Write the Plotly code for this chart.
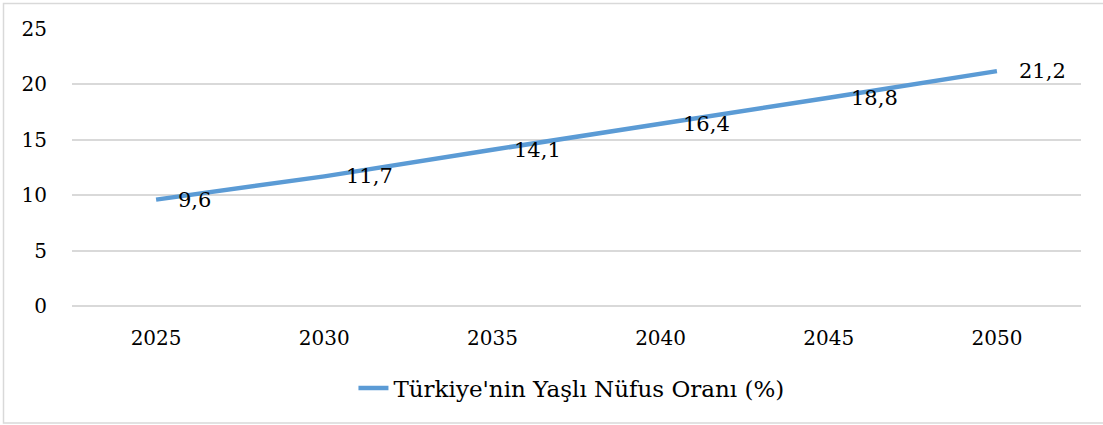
import plotly.graph_objects as go

years = ["2025", "2030", "2035", "2040", "2045", "2050"]
ratios = [9.6, 11.7, 14.1, 16.4, 18.8, 21.2]
series_name = "Türkiye'nin Yaşlı Nüfus Oranı (%)"
y_ticks = [0, 5, 10, 15, 20, 25]

FONT = "Palatino Linotype, Book Antiqua, Palatino, DejaVu Serif, serif"
FS = 20
BLUE = "#5b9bd5"
GRID = "#d9d9d9"

fig = go.Figure()
fig.add_trace(go.Scatter(
    x=years, y=ratios, mode="lines", name=series_name,
    line=dict(color=BLUE, width=4.5),
))

for i, v in enumerate(ratios):
    fig.add_annotation(
        x=i, y=v, text=f"{v:.1f}".replace(".", ","), showarrow=False,
        xanchor="left", yanchor="middle", xshift=20,
        font=dict(family=FONT, size=21, color="#000000"),
    )

L, R, T, B = 72, 22, 29, 119
W, H = 1103, 425
pw, ph = W - L - R, H - T - B

fig.add_shape(
    type="rect", xref="paper", yref="paper",
    x0=(3.5 - L) / pw, x1=(W + 6 - L) / pw,
    y0=(H - B - 423) / ph, y1=(H - B - 3.5) / ph,
    line=dict(color=GRID, width=1.5), layer="below",
)

fig.update_layout(
    width=W, height=H,
    margin=dict(l=L, r=R, t=T, b=B),
    paper_bgcolor="white", plot_bgcolor="white",
    font=dict(family=FONT, size=FS, color="#000000"),
    showlegend=True,
    legend=dict(
        orientation="h", x=0.495, xanchor="center", y=-0.296, yanchor="middle",
        font=dict(family=FONT, size=23, color="#000000"),
        bgcolor="rgba(0,0,0,0)",
    ),
    xaxis=dict(
        type="category", range=[-0.5, 5.5], showgrid=False, zeroline=False,
        showline=False, ticks="", ticklabelstandoff=18,
        tickfont=dict(family=FONT, size=FS, color="#000000"),
    ),
    yaxis=dict(
        range=[0, 25], tickvals=y_ticks, showgrid=True, gridcolor=GRID,
        gridwidth=1.5, zeroline=True, zerolinecolor=GRID, zerolinewidth=1.5,
        showline=False, ticks="", ticklabelstandoff=24,
        tickfont=dict(family=FONT, size=FS, color="#000000"),
    ),
)

fig.write_html("out.html", config={"displayModeBar": False},
               post_script="document.body.style.margin='0';")
